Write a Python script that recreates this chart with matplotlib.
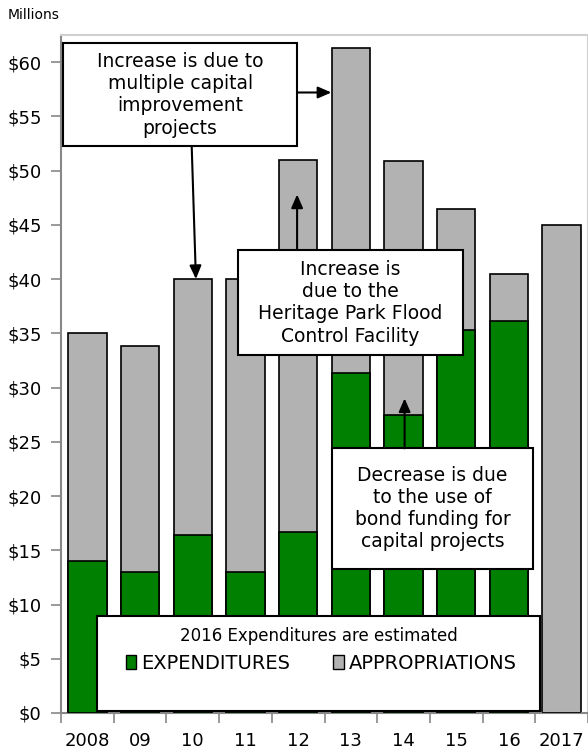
import matplotlib
matplotlib.use("Agg")
import matplotlib.pyplot as plt
from matplotlib.patches import Rectangle, Patch

plt.rcParams['font.family'] = ['DejaVu Sans']

years = ["2008", "09", "10", "11", "12", "13", "14", "15", "16", "2017"]
expenditures = [14.0, 13.0, 16.4, 13.0, 16.7, 31.3, 27.5, 35.3, 36.1, 0.0]
appropriations = [35.0, 33.8, 40.0, 40.0, 51.0, 61.3, 50.9, 46.5, 40.5, 45.0]
y_ticks = [0, 5, 10, 15, 20, 25, 30, 35, 40, 45, 50, 55, 60]
y_labels = ["$" + str(v) for v in y_ticks]

GREEN = "#008000"
GRAY = "#b2b2b2"

W, H = 588, 751
fig = plt.figure(figsize=(W / 100, H / 100), dpi=100)
ax = fig.add_axes([61 / W, 1 - 713 / H, (588 - 61) / W, (713 - 35) / H])

x = list(range(len(years)))
bw = 0.73
ax.bar(x, appropriations, width=bw, color=GRAY, edgecolor="black", linewidth=1.2, zorder=2)
ax.bar(x, expenditures, width=bw, color=GREEN, edgecolor="black", linewidth=1.2, zorder=3)

ax.set_xlim(-0.5, 9.45)
ax.set_ylim(0, 62.5)

ax.set_yticks(y_ticks)
ax.set_yticklabels(y_labels, fontsize=13)
ax.set_xticks(x)
ax.set_xticklabels(years, fontsize=13)
ax.set_xticks([i - 0.5 for i in range(len(years) + 1)], minor=True)
ax.tick_params(axis="x", which="major", length=0, pad=14)
ax.tick_params(axis="x", which="minor", length=7, color="#888888", width=1.2, direction="out")
ax.tick_params(axis="y", length=7, color="#888888", width=1.2, direction="out", pad=7)

for side in ("left", "bottom"):
    ax.spines[side].set_color("#888888")
    ax.spines[side].set_linewidth(1.5)
for side in ("top", "right"):
    ax.spines[side].set_color("#d0d0d0")
    ax.spines[side].set_linewidth(1.5)

fig.text(8 / W, 1 - 15 / H, "Millions", fontsize=10, va="center", ha="left")

def note_box(x0, x1, y0, y1, text, size):
    ax.add_patch(Rectangle((x0, y0), x1 - x0, y1 - y0, facecolor="white",
                           edgecolor="black", linewidth=1.5, zorder=6))
    ax.text((x0 + x1) / 2, (y0 + y1) / 2, text, ha="center", va="center",
            fontsize=size, linespacing=1.22, zorder=7)

def arrow(x0, y0, x1, y1):
    ax.annotate("", xy=(x1, y1), xytext=(x0, y0),
                arrowprops=dict(arrowstyle="-|>,head_length=0.8,head_width=0.35",
                                color="black", lw=1.5, shrinkA=0, shrinkB=0),
                zorder=8)

note_box(-0.46, 3.98, 52.26, 61.75,
         "Increase is due to\nmultiple capital\nimprovement\nprojects", 13.5)
arrow(3.98, 57.2, 4.63, 57.2)
arrow(1.98, 52.26, 2.06, 40.0)

note_box(2.85, 7.12, 33.0, 42.67,
         "Increase is\ndue to the\nHeritage Park Flood\nControl Facility", 13.5)
arrow(3.98, 42.67, 3.98, 47.8)

note_box(4.64, 8.46, 13.3, 24.4,
         "Decrease is due\nto the use of\nbond funding for\ncapital projects", 13.5)
arrow(6.02, 24.4, 6.02, 29.0)

# legend panel
lx0, lx1, ly0, ly1 = 0.18, 8.59, 0.18, 8.94
ax.add_patch(Rectangle((lx0, ly0), lx1 - lx0, ly1 - ly0, facecolor="white",
                       edgecolor="black", linewidth=1.5, zorder=6))
ax.text((lx0 + lx1) / 2, 7.1, "2016 Expenditures are estimated", ha="center",
        va="center", fontsize=12, zorder=7)
handles = [Patch(facecolor=GREEN, edgecolor="black", label="EXPENDITURES"),
           Patch(facecolor=GRAY, edgecolor="black", label="APPROPRIATIONS")]
leg = ax.legend(handles=handles, ncol=2, frameon=False, fontsize=14,
                loc="center", bbox_to_anchor=((lx0 + lx1) / 2 + 0.05, 4.6),
                bbox_transform=ax.transData, handlelength=0.55, handleheight=0.75,
                handletextpad=0.25, columnspacing=2.2, borderpad=0)
leg.set_zorder(8)

fig.savefig("out.png", dpi=100)
